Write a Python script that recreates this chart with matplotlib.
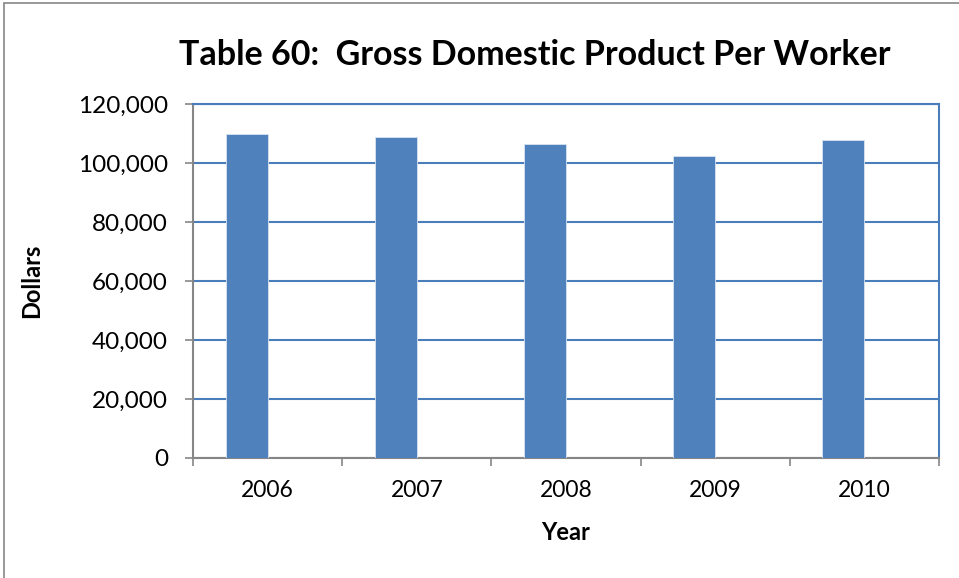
import matplotlib.pyplot as plt
import numpy as np
from matplotlib.patches import Rectangle

# Data
years = ['2006', '2007', '2008', '2009', '2010']
gdp_per_worker = [109800, 108900, 106400, 102300, 107800]

plt.rcParams['font.family'] = ['Lato', 'DejaVu Sans']

fig = plt.figure(figsize=(9.59, 5.78), dpi=100)
ax = fig.add_axes([193/959, 1-458/578, (939-193)/959, (458-104)/578])

# Outer chart border (gray)
fig.patches.append(Rectangle((4/959, -0.02), 1.0, 1-3/578+0.02, transform=fig.transFigure,
                             fill=False, edgecolor='#868686', linewidth=1.2))

x = np.arange(len(years))
bar_color = '#4F81BD'
grid_color = '#4A7EBB'
axis_gray = '#868686'

# Bars sit left of the slot center (second empty series in the source)
ax.bar(x - 0.141, gdp_per_worker, width=0.282, color=bar_color, edgecolor='#D9E3F0',
       linewidth=0.6, zorder=3)

ax.set_xlim(-0.5, 4.5)
ax.set_ylim(0, 120000)
ax.set_yticks(np.arange(0, 120001, 20000))
ax.set_yticklabels([f'{v:,}' for v in range(0, 120001, 20000)], fontsize=17.5)
ax.yaxis.grid(True, color=grid_color, linewidth=1.5, zorder=1)

ax.set_xticks(x)
ax.set_xticklabels(years, fontsize=16.5)
ax.tick_params(axis='x', which='major', length=0, pad=16)
ax.set_xticks(np.arange(-0.5, 4.6, 1), minor=True)
ax.tick_params(axis='x', which='minor', length=6, color=axis_gray, width=1.2)
ax.tick_params(axis='y', length=6, color=axis_gray, width=1.2, pad=12)

ax.spines['left'].set_color(axis_gray)
ax.spines['bottom'].set_color(axis_gray)
ax.spines['left'].set_linewidth(1.5)
ax.spines['bottom'].set_linewidth(1.5)
ax.spines['top'].set_color(grid_color)
ax.spines['right'].set_color(grid_color)
ax.spines['top'].set_linewidth(1.5)
ax.spines['right'].set_linewidth(1.5)

fig.text(535/959, 1-55/578, 'Table 60:  Gross Domestic Product Per Worker',
         ha='center', va='center', fontsize=24.5, fontweight='bold')
fig.text(32/959, 1-281/578, 'Dollars', rotation=90, ha='center', va='center',
         fontsize=17, fontweight='bold')
fig.text(566/959, 1-532/578, 'Year', ha='center', va='center', fontsize=17, fontweight='bold')

fig.savefig('out.png', dpi=100)
